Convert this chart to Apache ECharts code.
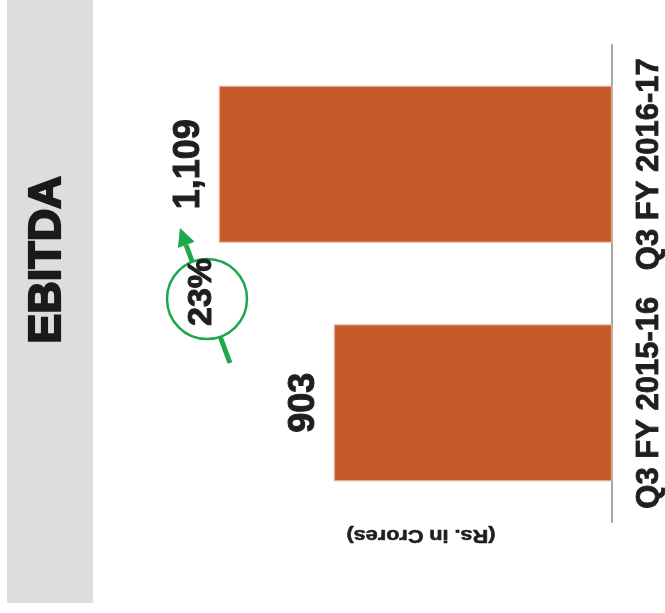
<!DOCTYPE html>
<html>
<head>
<meta charset="utf-8">
<script src="https://cdn.jsdelivr.net/npm/echarts@6/dist/echarts.min.js"></script>
<style>
html,body{margin:0;padding:0;background:#fff;}
#chart{width:665px;height:613px;}
</style>
</head>
<body>
<div id="chart"></div>
<script>
var categories = ['Q3 FY 2015-16', 'Q3 FY 2016-17'];
var ebitdaValues = [903, 1109];
var valueLabels = ['903', '1,109'];
var titleText = 'EBITDA';
var unitText = '(Rs. in Crores)';
var growthText = '23%';

var chart = echarts.init(document.getElementById('chart'));
var FONT = '"Liberation Sans", Arial, Helvetica, sans-serif';
var GREEN = '#1ea84b';
var INK = '#1f1f1f';

var option = {
  animation: false,
  backgroundColor: '#ffffff',
  grid: { left: 165, right: 50, top: 45, bottom: 91, containLabel: false },
  xAxis: {
    type: 'value', inverse: true, min: 405, max: 1205,
    show: false, splitLine: { show: false }
  },
  yAxis: {
    type: 'category', position: 'right', data: categories,
    axisLine: { show: true, lineStyle: { color: '#a6a6a6', width: 2 } },
    axisTick: { show: false },
    axisLabel: {
      interval: 0, hideOverlap: false,
      rotate: 90, margin: 22, fontSize: 31, fontWeight: 'bold',
      color: INK, fontFamily: FONT, textBorderColor: INK, textBorderWidth: 0.8
    }
  },
  series: [{
    type: 'bar',
    data: ebitdaValues,
    barCategoryGap: '34%',
    itemStyle: { color: '#c45b28', borderColor: 'rgba(240,185,175,0.7)', borderWidth: 1.5 },
    label: {
      show: true, position: 'left', distance: 12, rotate: 90,
      align: 'center', verticalAlign: 'bottom',
      fontSize: 36, fontWeight: 'bold', color: INK, fontFamily: FONT,
      textBorderColor: INK, textBorderWidth: 1,
      formatter: function (p) { return valueLabels[p.dataIndex]; }
    }
  }],
  graphic: [
    { type: 'rect', shape: { x: 7, y: 0, width: 86, height: 603 }, style: { fill: '#dcdddf' }, z: -1 },
    { type: 'text', x: 48, y: 260, rotation: Math.PI / 2,
      style: { text: titleText, font: 'bold 45px ' + FONT, fill: '#1a1a1a', stroke: '#1a1a1a', lineWidth: 2.2, align: 'center', verticalAlign: 'middle' } },
    { type: 'line', shape: { x1: 230, y1: 363, x2: 186, y2: 245 }, style: { stroke: GREEN, lineWidth: 5 }, z: 10 },
    { type: 'polygon', shape: { points: [[180, 228], [194.6, 241.8], [177.8, 248]] }, style: { fill: GREEN }, z: 10 },
    { type: 'circle', shape: { cx: 207, cy: 299, r: 40 }, style: { fill: '#ffffff', stroke: GREEN, lineWidth: 2.5 }, z: 11 },
    { type: 'text', x: 202, y: 292, rotation: Math.PI / 2, z: 12,
      style: { text: growthText, font: 'bold 34px ' + FONT, fill: INK, stroke: INK, lineWidth: 1, align: 'center', verticalAlign: 'middle' } },
    { type: 'text', x: 421, y: 535, rotation: Math.PI, scaleX: 1.2, z: 12,
      style: { text: unitText, font: 'bold 18px ' + FONT, fill: INK, stroke: INK, lineWidth: 0.6, align: 'center', verticalAlign: 'middle' } }
  ]
};
chart.setOption(option);
</script>
</body>
</html>
